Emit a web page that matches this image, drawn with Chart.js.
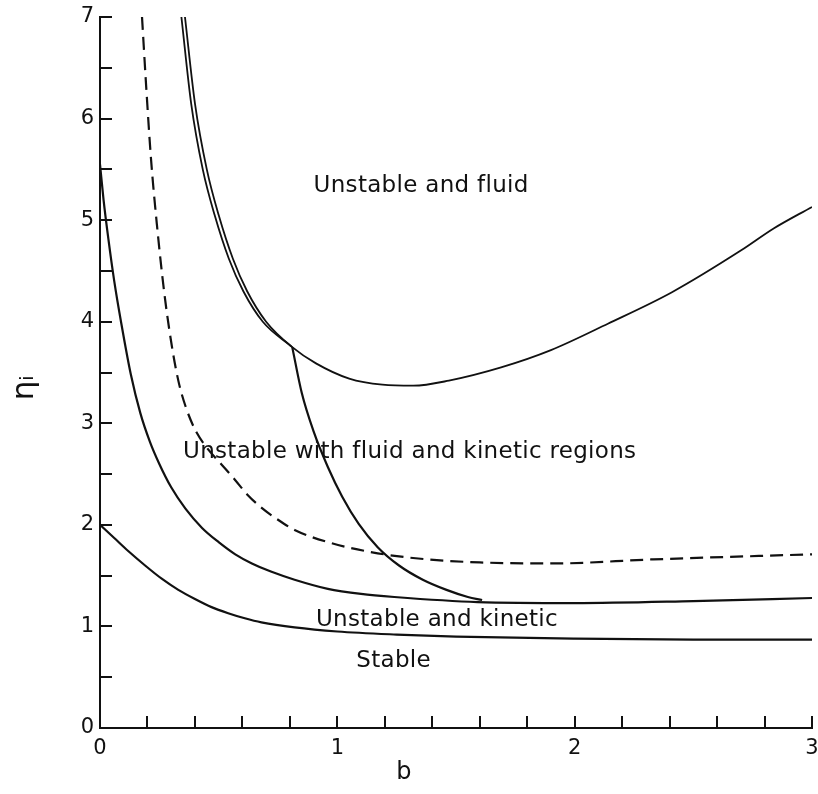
<!DOCTYPE html>
<html><head><meta charset="utf-8">
<script src="https://cdn.jsdelivr.net/npm/chart.js@4/dist/chart.umd.min.js"></script>
<style>html,body{margin:0;padding:0;background:#fff}</style>
</head><body>
<canvas id="c" width="818" height="794"></canvas>
<script>
// ---- data (b, eta_i) ----
const stableB   = [0, 0.06, 0.12, 0.19, 0.26, 0.33, 0.40, 0.47, 0.54, 0.61, 0.68, 0.82, 1.0, 1.25, 1.5, 2.0, 2.5, 3.0];
const stableEta = [2.0, 1.87, 1.74, 1.60, 1.47, 1.36, 1.27, 1.19, 1.13, 1.08, 1.04, 0.99, 0.95, 0.92, 0.90, 0.88, 0.87, 0.87];

const kineticB   = [0, 0.015, 0.035, 0.06, 0.09, 0.13, 0.17, 0.21, 0.25, 0.30, 0.36, 0.43, 0.50, 0.57, 0.64, 0.72, 0.82, 0.96, 1.1, 1.24, 1.59, 2.0, 2.5, 3.0];
const kineticEta = [5.55, 5.2, 4.82, 4.40, 3.98, 3.48, 3.10, 2.82, 2.60, 2.37, 2.16, 1.97, 1.83, 1.71, 1.62, 1.54, 1.46, 1.37, 1.32, 1.29, 1.24, 1.23, 1.25, 1.28];

const dashedB   = [0.177, 0.195, 0.215, 0.24, 0.27, 0.30, 0.33, 0.36, 0.40, 0.45, 0.51, 0.57, 0.62, 0.68, 0.75, 0.82, 0.96, 1.17, 1.38, 1.6, 1.91, 2.33, 3.0];
const dashedEta = [7.0, 6.3, 5.6, 4.95, 4.3, 3.8, 3.42, 3.17, 2.94, 2.76, 2.60, 2.44, 2.30, 2.17, 2.05, 1.95, 1.83, 1.72, 1.66, 1.63, 1.62, 1.66, 1.71];

const fluidB   = [0.358, 0.40, 0.45, 0.50, 0.56, 0.62, 0.70, 0.81, 0.91, 1.05, 1.19, 1.32, 1.47, 1.69, 1.90, 2.14, 2.41, 2.70, 2.84, 3.0];
const fluidEta = [7.0, 6.15, 5.5, 5.05, 4.62, 4.3, 4.0, 3.75, 3.59, 3.44, 3.38, 3.37, 3.42, 3.55, 3.72, 3.98, 4.29, 4.70, 4.92, 5.13];

const innerB   = [0.343, 0.384, 0.433, 0.483, 0.543, 0.604, 0.686, 0.81];
const innerEta = [7.0, 6.15, 5.5, 5.05, 4.62, 4.3, 4.0, 3.75];

const steepB   = [0.81, 0.85, 0.90, 0.96, 1.02, 1.09, 1.17, 1.26, 1.36, 1.46, 1.55, 1.61];
const steepEta = [3.75, 3.30, 2.92, 2.57, 2.28, 2.01, 1.78, 1.60, 1.46, 1.36, 1.29, 1.26];

const regionLabels = ["Unstable and fluid", "Unstable with fluid and kinetic regions", "Unstable and kinetic", "Stable"];
const xTickLabels = ["0", "1", "2", "3"];
const yTickLabels = ["0", "1", "2", "3", "4", "5", "6", "7"];
const xAxisTitle = "b";
const yAxisTitle = "ηᵢ";

// ---- build ----
const pts = (xs, ys) => xs.map((v, i) => ({x: v, y: ys[i]}));
const INK = '#111';
const FAMILY = "'DejaVu Sans', sans-serif";
const lineDs = (xs, ys, extra) => Object.assign({
  data: pts(xs, ys), showLine: true, borderColor: INK, borderWidth: 2.2,
  pointRadius: 0, fill: false, cubicInterpolationMode: 'monotone'
}, extra || {});

Chart.defaults.font.family = FAMILY;
Chart.defaults.color = INK;

const labelPos = [
  {b: 0.90, eta: 5.34},
  {b: 0.35, eta: 2.72},
  {b: 0.91, eta: 1.06},
  {b: 1.08, eta: 0.655}
];

const textPlugin = {
  id: 'regionText',
  afterDatasetsDraw(chart) {
    const {ctx, scales: {x, y}} = chart;
    ctx.save();
    ctx.fillStyle = INK;
    ctx.font = "23px " + FAMILY;
    if ('letterSpacing' in ctx) ctx.letterSpacing = '0.3px';
    ctx.textAlign = 'left';
    ctx.textBaseline = 'middle';
    regionLabels.forEach((t, i) => {
      ctx.fillText(t, x.getPixelForValue(labelPos[i].b), y.getPixelForValue(labelPos[i].eta));
    });
    if ('letterSpacing' in ctx) ctx.letterSpacing = '0px';
    // x axis title (placed left of centre as in the reference)
    ctx.font = "24px " + FAMILY;
    ctx.textAlign = 'center';
    ctx.fillText(xAxisTitle, x.getPixelForValue(1.28), 773);
    // y axis title, rotated
    ctx.translate(25, y.getPixelForValue(3.35));
    ctx.rotate(-Math.PI / 2);
    ctx.font = "31px " + FAMILY;
    ctx.fillText(yAxisTitle, 0, 0);
    ctx.restore();
  }
};

const inwardTicks = {
  id: 'inwardTicks',
  afterDraw(chart) {
    const {ctx, chartArea: a, scales: {x, y}} = chart;
    ctx.save();
    ctx.strokeStyle = INK;
    ctx.lineWidth = 2;
    x.ticks.forEach(t => {
      if (Math.abs(t.value) < 1e-9) return;
      const px = Math.round(x.getPixelForValue(t.value));
      ctx.beginPath(); ctx.moveTo(px, a.bottom); ctx.lineTo(px, a.bottom - 12); ctx.stroke();
    });
    y.ticks.forEach(t => {
      if (Math.abs(t.value) < 1e-9) return;
      const py = Math.round(y.getPixelForValue(t.value));
      ctx.beginPath(); ctx.moveTo(a.left, py); ctx.lineTo(a.left + 12, py); ctx.stroke();
    });
    ctx.restore();
  }
};

const isInt = v => Math.abs(v - Math.round(v)) < 1e-6;

new Chart(document.getElementById('c'), {
  type: 'scatter',
  data: {
    datasets: [
      lineDs(stableB, stableEta),
      lineDs(kineticB, kineticEta),
      lineDs(dashedB, dashedEta, {borderDash: [13, 7]}),
      lineDs(fluidB, fluidEta, {borderWidth: 1.8}),
      lineDs(innerB, innerEta, {borderWidth: 1.8}),
      lineDs(steepB, steepEta)
    ]
  },
  options: {
    responsive: false,
    animation: false,
    layout: {padding: {top: 17, right: 6, left: 0, bottom: 0}},
    plugins: {legend: {display: false}, tooltip: {enabled: false}},
    scales: {
      x: {
        type: 'linear', min: 0, max: 3,
        grid: {display: false, drawTicks: false},
        border: {display: true, color: INK, width: 2},
        ticks: {
          stepSize: 0.2, padding: 8, maxRotation: 0, autoSkip: false,
          font: {size: 21, family: FAMILY},
          callback: v => isInt(v) ? xTickLabels[Math.round(v)] : ''
        },
        title: {display: false, text: xAxisTitle},
        afterFit: s => { s.height = 66; s.paddingLeft = 0; s.paddingRight = 0; }
      },
      y: {
        type: 'linear', min: 0, max: 7,
        grid: {display: false, drawTicks: false},
        border: {display: true, color: INK, width: 2},
        ticks: {
          stepSize: 0.5, padding: 6, autoSkip: false,
          font: {size: 21, family: FAMILY},
          callback: v => isInt(v) ? yTickLabels[Math.round(v)] : ''
        },
        title: {display: false, text: yAxisTitle},
        afterFit: s => { s.width = 100; s.paddingTop = 0; s.paddingBottom = 0; }
      }
    }
  },
  plugins: [textPlugin, inwardTicks]
});
</script>
</body></html>
